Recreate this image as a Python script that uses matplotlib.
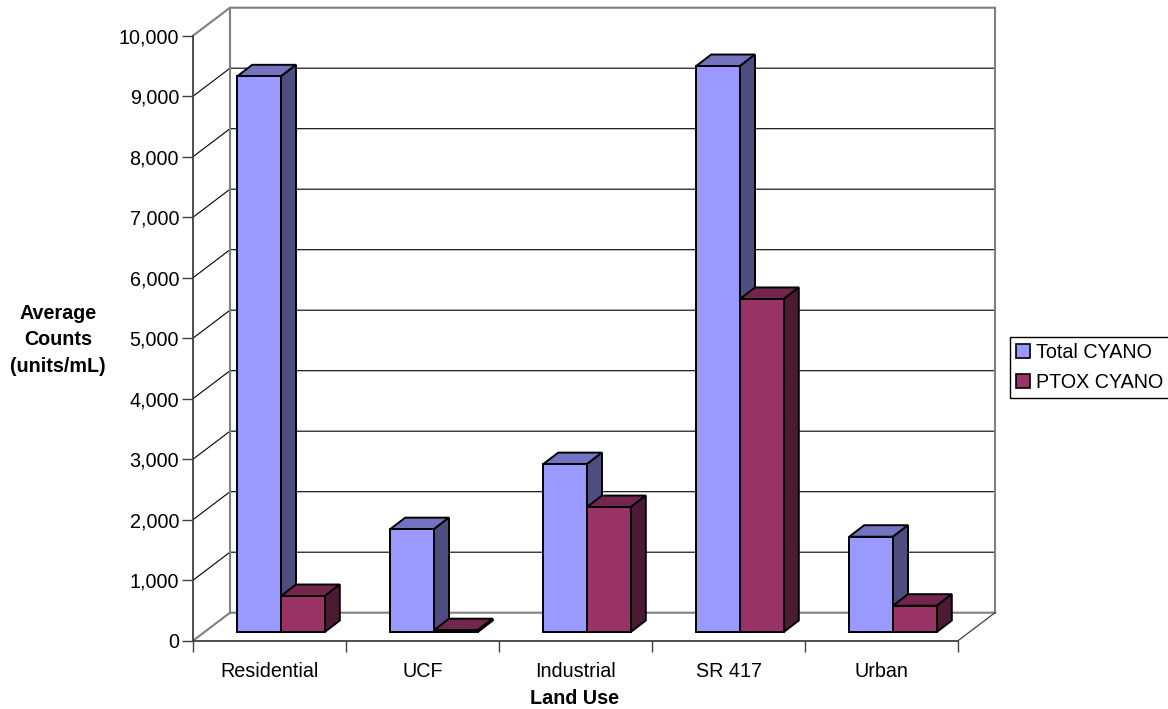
import matplotlib
matplotlib.use("Agg")
import matplotlib.pyplot as plt
from matplotlib.patches import Patch

plt.rcParams["font.family"] = ["Liberation Sans", "DejaVu Sans"]

categories = ["Residential", "UCF", "Industrial", "SR 417", "Urban"]
total_cyano = [9185, 1700, 2775, 9355, 1575]
ptox_cyano = [595, 30, 2065, 5505, 435]
y_ticks = [0, 1000, 2000, 3000, 4000, 5000, 6000, 7000, 8000, 9000, 10000]

W, H = 1168, 709
# front plane of the chart box, in pixels
X0, X1, Y_TOP, Y_BOT = 193, 958, 35.7, 640.7
PX_X = (X1 - X0) / 5
PX_Y = (Y_BOT - Y_TOP) / 10000

# depth of box and bars, converted to data units
wall_dx, wall_dy = 37 / PX_X, 28 / PX_Y
bar_dx, bar_dy = 15 / PX_X, 11.5 / PX_Y
base_dx, base_dy = 11.5 / PX_X, 8.7 / PX_Y
bar_w = 43.8 / PX_X

fig = plt.figure(figsize=(W / 100, H / 100), dpi=100)
ax = fig.add_axes([X0 / W, 1 - Y_BOT / H, (X1 - X0) / W, (Y_BOT - Y_TOP) / H])
ax.set_xlim(0, 5)
ax.set_ylim(0, 10000)
ax.patch.set_visible(False)

for s in ["top", "right"]:
    ax.spines[s].set_visible(False)
for s in ["left", "bottom"]:
    ax.spines[s].set_color("#404040")
    ax.spines[s].set_linewidth(1.3)

# grid lines on back and left wall
for v in y_ticks[1:-1]:
    ax.plot([0, wall_dx, 5 + wall_dx], [v, v + wall_dy, v + wall_dy],
            color="black", lw=0.8, clip_on=False, zorder=1)

# box outline
gray = "#808080"
ax.plot([wall_dx, wall_dx], [wall_dy, 10000 + wall_dy], color=gray, lw=1.5, clip_on=False, zorder=2)
ax.plot([5 + wall_dx, 5 + wall_dx], [wall_dy, 10000 + wall_dy], color=gray, lw=1.5, clip_on=False, zorder=2)
ax.plot([0, wall_dx, 5 + wall_dx], [10000, 10000 + wall_dy, 10000 + wall_dy], color=gray, lw=1.5, clip_on=False, zorder=2)
ax.plot([0, wall_dx, 5 + wall_dx], [0, wall_dy, wall_dy], color=gray, lw=1.5, clip_on=False, zorder=2)
ax.plot([5, 5 + wall_dx], [0, wall_dy], color="#404040", lw=0.9, clip_on=False, zorder=2)


def draw_bar(x, value, front, top, side, z):
    y0 = base_dy
    y1 = base_dy + value
    xl = x + base_dx
    xr = xl + bar_w
    ax.fill([xl, xl + bar_dx, xr + bar_dx, xr], [y1, y1 + bar_dy, y1 + bar_dy, y1],
            facecolor=top, edgecolor="black", lw=1.4, clip_on=False, zorder=z)
    ax.fill([xr, xr + bar_dx, xr + bar_dx, xr], [y0, y0 + bar_dy, y1 + bar_dy, y1],
            facecolor=side, edgecolor="black", lw=1.4, clip_on=False, zorder=z)
    ax.bar(xl, value, bar_w, bottom=y0, align="edge", color=front, edgecolor="black",
           lw=1.4, clip_on=False, zorder=z)


blue = ("#9999FF", "#7373BF", "#4D4D80")
purple = ("#993366", "#73264D", "#4D1A33")
for i in range(len(categories)):
    draw_bar(i + 0.5 - bar_w, total_cyano[i], *blue, 3 + i * 2)
    draw_bar(i + 0.5, ptox_cyano[i], *purple, 4 + i * 2)

ax.set_yticks(y_ticks)
ax.set_yticklabels([f"{v:,}" for v in y_ticks])
ax.tick_params(axis="y", length=8, width=1.0, color="#404040", labelsize=14.2, pad=2)
ax.set_xticks(range(6))
ax.set_xticklabels([])
ax.tick_params(axis="x", length=8, width=1.0, color="#404040")
ax.set_xticks([i + 0.5 for i in range(5)], minor=True)
ax.set_xticklabels(categories, minor=True)
ax.tick_params(axis="x", which="minor", length=0, labelsize=14.2, pad=15.5)

fig.text(575 / W, 1 - 698.5 / H, "Land Use", fontsize=14.2, fontweight="bold", ha="center", va="center")
fig.text(58 / W, 1 - 340 / H, "Average\nCounts\n(units/mL)", fontsize=14.2, fontweight="bold",
         ha="center", va="center", linespacing=1.47)

handles = [Patch(facecolor=blue[0], edgecolor="black", lw=1.2),
           Patch(facecolor=purple[0], edgecolor="black", lw=1.2)]
leg = fig.legend(handles, ["Total CYANO", "PTOX CYANO"], loc="upper left",
                 bbox_to_anchor=(1009.5 / W, 1 - 337 / H), borderaxespad=0, fontsize=14.2,
                 fancybox=False, framealpha=1, edgecolor="black", handlelength=0.72,
                 handleheight=0.72, handletextpad=0.3, labelspacing=0.55, borderpad=0.32)
leg.get_frame().set_linewidth(1.0)

fig.savefig("out.png", dpi=100)
plt.close(fig)
